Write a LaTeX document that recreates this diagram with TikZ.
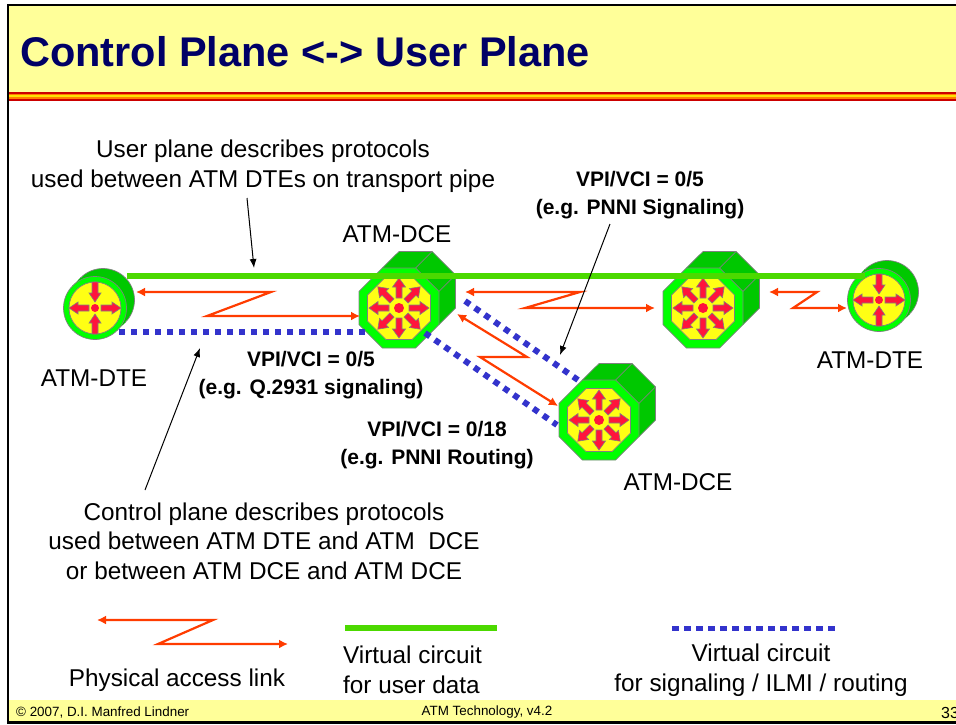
\documentclass[tikz,border=0pt]{standalone}
\usepackage{fontspec}
\setmainfont{Liberation Sans}
\usetikzlibrary{arrows.meta, positioning}
\definecolor{slideyellow}{RGB}{255, 255, 153}
\definecolor{titlenavy}{RGB}{0, 0, 102}
\definecolor{userlinegreen}{RGB}{76, 217, 0}
\definecolor{sigblue}{RGB}{51, 51, 204}
\definecolor{zigred}{RGB}{255, 60, 0}
\definecolor{facegreen}{RGB}{0, 255, 0}
\definecolor{hullgreen}{RGB}{0, 200, 0}
\definecolor{faceyellow}{RGB}{255, 255, 20}
\definecolor{spokered}{RGB}{255, 20, 60}

\begin{document}
\begin{tikzpicture}[
  x=1pt, y=-1pt,
  bodytext/.style={
    font=\fontsize{24.3}{29.5}\selectfont,
    align=center,
    inner sep=0pt,
  },
  boldtext/.style={
    font=\fontsize{21}{27.5}\selectfont\bfseries,
    align=center,
    inner sep=0pt,
  },
  foottext/.style={
    font=\fontsize{13.4}{15}\selectfont,
    inner sep=0pt,
  },
  zigline/.style={
    draw=zigred,
    line width=2.2pt,
    line join=miter,
    {Latex[length=9pt,width=9pt]}-{Latex[length=9pt,width=9pt]},
  },
  userline/.style={
    draw=userlinegreen,
    line width=5.5pt,
  },
  sigline/.style={
    draw=sigblue,
    line width=6pt,
    dash pattern=on 6pt off 6pt,
  },
  noteline/.style={
    draw=black,
    line width=1pt,
    -{Latex[length=9pt,width=7pt]},
  },
  spoke/.style={
    fill=spokered,
    draw=gray,
    line width=0.6pt,
  },
  dcebox/.pic={
    \fill[hullgreen] (-16.6,-40) -- (0,-56.5) -- (33.1,-56.5) -- (56.5,-33.1) -- (56.5,0) -- (40,16.6) -- cycle;
    \draw[gray, line width=0.7pt] (-16.6,-40) -- (0,-56.5) -- (33.1,-56.5) -- (56.5,-33.1) -- (56.5,0) -- (40,16.6);
    \draw[gray, line width=0.7pt] (16.6,-40) -- (33.1,-56.5) (40,-16.6) -- (56.5,-33.1);
    \filldraw[fill=facegreen, draw=gray, line width=0.7pt] (-16.6,-40) -- (16.6,-40) -- (40,-16.6) -- (40,16.6) -- (16.6,40) -- (-16.6,40) -- (-40,16.6) -- (-40,-16.6) -- cycle;
    \filldraw[fill=faceyellow, draw=gray, line width=0.7pt] (-13,-31.5) -- (13,-31.5) -- (31.5,-13) -- (31.5,13) -- (13,31.5) -- (-13,31.5) -- (-31.5,13) -- (-31.5,-13) -- cycle;
    \foreach \a in {0,45,...,315} {
      \filldraw[spoke, rotate=\a] (10,-3) -- (21,-3) -- (21,-6.5) -- (30,0) -- (21,6.5) -- (21,3) -- (10,3) -- cycle;
    }
    \fill[spokered] (0,0) circle (5);
  },
  dtebox/.pic={
    \filldraw[fill=hullgreen, draw=gray, line width=0.7pt] (8,-8) circle (31.5);
    \fill[hullgreen] (-22.3,-22.3) -- (-14.3,-30.3) -- (30.3,14.3) -- (22.3,22.3) -- cycle;
    \filldraw[fill=facegreen, draw=gray, line width=0.7pt] (0,0) circle (31.5);
    \filldraw[fill=faceyellow, draw=gray, line width=0.7pt] (0,0) circle (26);
    \foreach \a in {0,180} {
      \filldraw[spoke, rotate=\a] (6,-3) -- (17,-3) -- (17,-6) -- (26,0) -- (17,6) -- (17,3) -- (6,3) -- cycle;
    }
    \foreach \a in {90,270} {
      \filldraw[spoke, rotate=\a] (26,-3) -- (15,-3) -- (15,-6) -- (6,0) -- (15,6) -- (15,3) -- (26,3) -- cycle;
    }
    \fill[spokered] (0,0) circle (4);
  },
]
  \useasboundingbox (0,0) rectangle (956,724);

  % header and footer bands
  \fill[white] (0,0) rectangle (956,724);
  \fill[slideyellow] (8,5) rectangle (956,92);
  \fill[red!80!black] (8,92) rectangle (956,100.5);
  \fill[orange] (8,93.5) rectangle (956,99);
  \fill[yellow!85!orange] (8,95.3) rectangle (956,97.2);
  \fill[slideyellow] (8,700) rectangle (956,722);
  \draw[line width=2.5pt] (956,5) -- (8,5) -- (8,722.7) -- (956,722.7);

  \node[anchor=west, inner sep=0pt, font=\fontsize{41.5}{44}\selectfont\bfseries, text=titlenavy] (title) at (20,52) {Control Plane <-> User Plane};

  % devices
  \pic (dte-l) at (95,308) {dtebox};
  \pic (dce-a) at (399,308) {dcebox};
  \pic (dce-b) at (703,308) {dcebox};
  \pic (dce-c) at (599,420) {dcebox};
  \pic (dte-r) at (879,300) {dtebox};

  % line end points
  \coordinate (u-l) at (127,276);
  \coordinate (u-r) at (865,276);
  \coordinate (s-a1) at (119,332);
  \coordinate (s-a2) at (365,332);
  \coordinate (s-b1) at (465,301);
  \coordinate (s-b2) at (578,380);
  \coordinate (s-c1) at (425,333);
  \coordinate (s-c2) at (557,425);

  \draw[userline] (u-l) -- (u-r);
  \draw[sigline] (s-a1) -- (s-a2);
  \draw[sigline] (s-b1) -- (s-b2);
  \draw[sigline] (s-c1) -- (s-c2);

  % physical links
  \coordinate (z1-a) at (136,292);
  \coordinate (z1-b) at (271,292);
  \coordinate (z1-c) at (207,316);
  \coordinate (z1-d) at (360,316);
  \draw[zigline] (z1-a) -- (z1-b) -- (z1-c) -- (z1-d);
  \coordinate (z2-a) at (465,292);
  \coordinate (z2-b) at (580,292);
  \coordinate (z2-c) at (525,308);
  \coordinate (z2-d) at (655,308);
  \draw[zigline] (z2-a) -- (z2-b) -- (z2-c) -- (z2-d);
  \coordinate (z3-a) at (769,292);
  \coordinate (z3-b) at (817,292);
  \coordinate (z3-c) at (793,308);
  \coordinate (z3-d) at (847,308);
  \draw[zigline] (z3-a) -- (z3-b) -- (z3-c) -- (z3-d);
  \coordinate (z4-a) at (457,314);
  \coordinate (z4-b) at (527,357);
  \coordinate (z4-c) at (480,357);
  \coordinate (z4-d) at (558,406);
  \draw[zigline] (z4-a) -- (z4-b) -- (z4-c) -- (z4-d);

  % texts
  \node[bodytext] (userplane) at (263,166) {User plane describes protocols\\used between ATM DTEs on transport pipe};
  \node[bodytext] (ctrlplane) at (264,541) {Control plane describes protocols\\used between ATM DTE and ATM\ \ DCE\\or between ATM DCE and ATM DCE};
  \node[bodytext] (dce-a-lbl) at (397,234) {ATM-DCE};
  \node[bodytext] (dce-c-lbl) at (678,482) {ATM-DCE};
  \node[bodytext] (dte-l-lbl) at (94,378) {ATM-DTE};
  \node[bodytext] (dte-r-lbl) at (870,360) {ATM-DTE};
  \node[boldtext] (sig-pnni) at (640,195) {VPI/VCI = 0/5\\(e.g. PNNI Signaling)};
  \node[boldtext] (sig-q) at (311,375) {VPI/VCI = 0/5\\(e.g. Q.2931 signaling)};
  \node[boldtext] (sig-rout) at (437,445) {VPI/VCI = 0/18\\(e.g. PNNI Routing)};

  % note arrows
  \coordinate (n1-end) at (254,268);
  \coordinate (n2-end) at (560,355);
  \coordinate (n3-end) at (200,348);
  \coordinate (n1-start) at (247,198);
  \coordinate (n2-start) at (610,224);
  \coordinate (n3-start) at (145,490);
  \draw[noteline] (n1-start) -- (n1-end);
  \draw[noteline] (n2-start) -- (n2-end);
  \draw[noteline] (n3-start) -- (n3-end);

  % legend
  \coordinate (lz-a) at (97,620);
  \coordinate (lz-b) at (213,620);
  \coordinate (lz-c) at (158,644);
  \coordinate (lz-d) at (288,644);
  \draw[zigline] (lz-a) -- (lz-b) -- (lz-c) -- (lz-d);
  \coordinate (lu-a) at (345,628);
  \coordinate (lu-b) at (497,628);
  \draw[userline] (lu-a) -- (lu-b);
  \coordinate (ls-a) at (672,628);
  \coordinate (ls-b) at (835,628);
  \draw[sigline, line width=5pt, dash pattern=on 7pt off 5pt] (ls-a) -- (ls-b);
  \node[bodytext] (leg-phys) at (177,680) {Physical access link};
  \node[bodytext, anchor=west, align=left] (leg-user) at (343,670) {Virtual circuit\\for user data};
  \node[bodytext] (leg-sig) at (761,670) {Virtual circuit\\for signaling / ILMI / routing};

  % footer
  \node[foottext, anchor=west] (foot-l) at (16,712) {© 2007, D.I. Manfred Lindner};
  \node[foottext] (foot-m) at (487,712) {ATM Technology, v4.2};
  \node[foottext, anchor=west, font=\fontsize{16}{18}\selectfont] (foot-r) at (941,713) {33};
\end{tikzpicture}
\end{document}
